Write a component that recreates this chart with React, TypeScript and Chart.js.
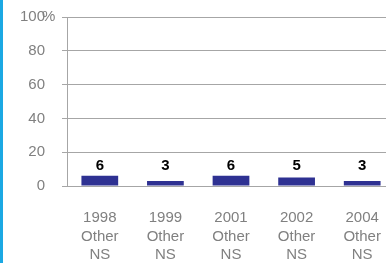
import React, { useEffect, useRef } from "react";
import { Chart, registerables } from "chart.js";

Chart.register(...registerables);

const categories: string[][] = [
  ["1998", "Other", "NS"],
  ["1999", "Other", "NS"],
  ["2001", "Other", "NS"],
  ["2002", "Other", "NS"],
  ["2004", "Other", "NS"],
];
const values: number[] = [6, 3, 6, 5, 3];
const yMin = 0;
const yMax = 100;
const yStep = 20;

const FONT = "'Liberation Sans', Arial, sans-serif";

export default function App() {
  const ref = useRef<HTMLCanvasElement | null>(null);

  useEffect(() => {
    if (!ref.current) return;
    const labelPlugin = {
      id: "valueLabels",
      afterDatasetsDraw(chart: any) {
        const ctx = chart.ctx;
        const meta = chart.getDatasetMeta(0);
        const ys = chart.scales.y;
        ctx.save();
        ctx.font = `bold 15px ${FONT}`;
        ctx.fillStyle = "#000000";
        ctx.textAlign = "center";
        ctx.textBaseline = "alphabetic";
        const yb = ys.getPixelForValue(0) - 16;
        meta.data.forEach((bar: any, i: number) => {
          ctx.fillText(String(values[i]), bar.x, yb);
        });
        ctx.font = `15px ${FONT}`;
        ctx.fillStyle = "#808080";
        ctx.textAlign = "left";
        ctx.textBaseline = "middle";
        ctx.fillText("%", 42, ys.getPixelForValue(yMax));
        ctx.restore();
      },
    };

    const chart = new Chart(ref.current, {
      type: "bar",
      data: {
        labels: categories,
        datasets: [
          {
            data: values,
            backgroundColor: "#2E3192",
            categoryPercentage: 1,
            barPercentage: 0.56,
          },
        ],
      },
      options: {
        responsive: false,
        animation: false,
        devicePixelRatio: 1,
        layout: { padding: { top: 17, left: 0, right: 0, bottom: 0 } },
        plugins: { legend: { display: false }, tooltip: { enabled: false } },
        scales: {
          x: {
            grid: { display: false, drawTicks: false },
            border: { display: true, color: "#A6A6A6" },
            ticks: {
              color: "#808080",
              font: { family: FONT, size: 15, lineHeight: 1.233 },
              padding: 23,
              maxRotation: 0,
              autoSkip: false,
            },
            afterFit: (s: any) => {
              s.height = 77;
              s.paddingLeft = 0;
              s.paddingRight = 0;
            },
          },
          y: {
            min: yMin,
            max: yMax,
            grid: { color: "#A6A6A6", tickLength: 5, drawTicks: true },
            border: { display: true, color: "#A6A6A6" },
            ticks: {
              stepSize: yStep,
              color: "#808080",
              font: { family: FONT, size: 15 },
              padding: 17,
            },
            afterFit: (s: any) => {
              s.width = 67;
              s.paddingTop = 0;
              s.paddingBottom = 0;
            },
          },
        },
      },
      plugins: [labelPlugin],
    });
    return () => chart.destroy();
  }, []);

  return (
    <div
      style={{
        position: "fixed",
        left: 0,
        top: 0,
        width: 386,
        height: 263,
        overflow: "hidden",
        background: "#ffffff",
      }}
    >
      <canvas
        ref={ref}
        width={395}
        height={263}
        style={{ display: "block", width: 395, height: 263 }}
      />
      <div
        style={{
          position: "absolute",
          left: 0,
          top: 0,
          width: 3,
          height: 263,
          background: "#1BA8E3",
        }}
      />
    </div>
  );
}
